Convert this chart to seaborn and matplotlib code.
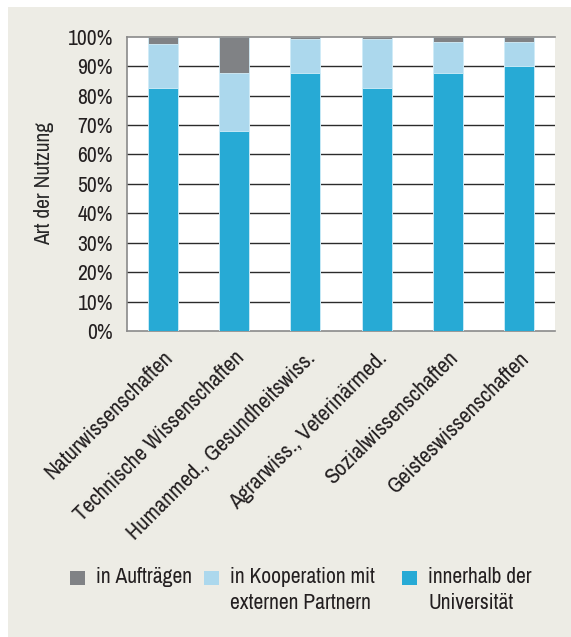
import matplotlib
matplotlib.use("Agg")
import matplotlib.pyplot as plt
from matplotlib import font_manager
from matplotlib.patches import Rectangle
from matplotlib.transforms import ScaledTranslation
import pandas as pd
import seaborn as sns

# data (percent)
faecher = ["Naturwissenschaften", "Technische Wissenschaften",
           "Humanmed., Gesundheitswiss.", "Agrarwiss., Veterinärmed.",
           "Sozialwissenschaften", "Geisteswissenschaften"]
innerhalb = [82.5, 68.0, 87.5, 82.5, 87.5, 90.0]
kooperation = [15.0, 19.5, 11.7, 16.7, 10.8, 8.3]
auftraege = [2.5, 12.5, 0.8, 0.8, 1.7, 1.7]

labels = ["in Aufträgen", "in Kooperation mit\nexternen Partnern",
          "innerhalb der\nUniversität"]
colors = ["#808285", "#acd8ed", "#27aad5"]

df = pd.DataFrame({"fach": faecher, "inner": innerhalb,
                   "koop": kooperation, "auftr": auftraege})
df["stufe2"] = df["inner"] + df["koop"]
df["stufe3"] = df["stufe2"] + df["auftr"]

# a condensed face if one is installed
narrow = sorted({f.name for f in font_manager.fontManager.ttflist
                 if "ondensed" in f.name or "Narrow" in f.name})

sns.set_style("white")
plt.rcParams["font.family"] = narrow[:1] + ["Liberation Sans", "DejaVu Sans"]
plt.rcParams["text.color"] = "#231f20"
plt.rcParams["xtick.color"] = "#231f20"
plt.rcParams["ytick.color"] = "#231f20"
fs = 15.5 if narrow else 12.5

bg = "#edece5"
fig = plt.figure(figsize=(5.71, 6.37), dpi=100, facecolor="white")
fig.patches.append(Rectangle((8 / 571, 0), 1, 630 / 637, transform=fig.transFigure,
                             facecolor=bg, edgecolor="none", zorder=-10))
ax = fig.add_axes([0.2224, 0.4804, 0.972 - 0.2224, 0.9424 - 0.4804])
ax.set_facecolor("white")

# grid
for v in range(10, 100, 10):
    ax.axhline(v, color="#2b2b2b", lw=1.0, zorder=0)

edge = "#d4eef9"
sns.barplot(data=df, x="fach", y="stufe3", color=colors[0], width=0.42,
            edgecolor=edge, linewidth=0.6, saturation=1, ax=ax, zorder=2)
sns.barplot(data=df, x="fach", y="stufe2", color=colors[1], width=0.42,
            edgecolor=edge, linewidth=0.6, saturation=1, ax=ax, zorder=3)
sns.barplot(data=df, x="fach", y="inner", color=colors[2], width=0.42,
            edgecolor=edge, linewidth=0.6, saturation=1, ax=ax, zorder=4)

ax.set_ylim(0, 100)
ax.set_xlim(-0.5, 5.5)
ax.set_yticks(range(0, 101, 10))
ax.set_yticklabels([f"{v}%" for v in range(0, 101, 10)], fontsize=fs)
ax.set_xticks(range(len(faecher)))
ax.set_xticklabels(faecher, rotation=45, ha="right", rotation_mode="anchor", fontsize=fs + 0.6)
shift = ScaledTranslation(-3 / 100, 0, fig.dpi_scale_trans)
for t in ax.get_xticklabels():
    t.set_transform(t.get_transform() + shift)
ax.set_xticks([i - 0.5 for i in range(len(faecher) + 1)], minor=True)
ax.tick_params(axis="x", which="major", length=0, pad=12)
ax.tick_params(axis="x", which="minor", length=5, width=1, color="#555555", direction="out")
ax.tick_params(axis="y", length=7, width=1, color="#555555", direction="out", pad=3)
ax.set_xlabel("")
ax.set_ylabel("Art der Nutzung", fontsize=fs, labelpad=10)

for s in ["left", "bottom", "top"]:
    ax.spines[s].set_visible(True)
    ax.spines[s].set_color("#8a8a8a")
    ax.spines[s].set_linewidth(1.2)
ax.spines["right"].set_visible(False)

# legend: squares aligned with the first text line
W, H = 571, 637
sq_x = [70, 204, 402]
for x0, c, lab in zip(sq_x, colors, labels):
    fig.patches.append(Rectangle((x0 / W, 1 - 585 / H), 15 / W, 14 / H,
                                 transform=fig.transFigure, facecolor=c,
                                 edgecolor="none"))
    fig.text((x0 + 26) / W, 1 - 567 / H, lab, fontsize=fs, va="top", ha="left",
             linespacing=1.4)

fig.savefig("out.png", dpi=100, facecolor=fig.get_facecolor())
